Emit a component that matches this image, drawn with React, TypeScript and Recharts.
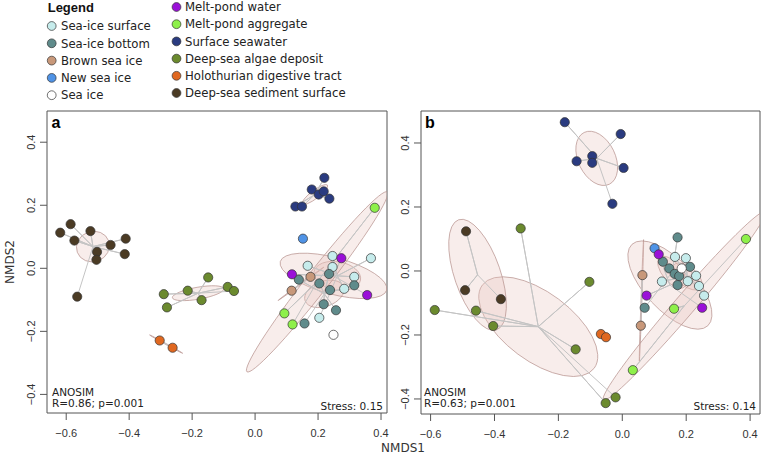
import React from 'react'
import { ScatterChart, Scatter, XAxis, YAxis, ReferenceArea } from 'recharts'

type Pt = [number, number]

const X_TICKS = [-0.6, -0.4, -0.2, 0, 0.2, 0.4]
const Y_TICKS = [-0.4, -0.2, 0, 0.2, 0.4]

const GROUP_NAMES = [
  'Sea-ice surface',
  'Sea-ice bottom',
  'Brown sea ice',
  'New sea ice',
  'Sea ice',
  'Melt-pond water',
  'Melt-pond aggregate',
  'Surface seawater',
  'Deep-sea algae deposit',
  'Holothurian digestive tract',
  'Deep-sea sediment surface',
]
const GROUP_COLORS = [
  '#c6ecec',
  '#5f8b8b',
  '#c8987a',
  '#4f93e6',
  '#ffffff',
  '#9a10d8',
  '#8ef04a',
  '#2a3b80',
  '#6b8a2e',
  '#e06820',
  '#4b3b24',
]

// panel a (NMDS1, NMDS2)
const seaIceSurfaceA: Pt[] = [[0.246, 0.039], [0.368, 0.032], [0.167, 0.008], [0.246, 0.004], [0.315, -0.027], [0.283, -0.065], [0.204, -0.157]]
const seaIceBottomA: Pt[] = [[0.139, -0.036], [0.235, -0.018], [0.204, -0.048], [0.238, -0.069], [0.315, -0.054], [0.218, -0.114], [0.257, -0.133], [0.157, -0.175]]
const brownSeaIceA: Pt[] = [[0.176, -0.027], [0.116, -0.071]]
const newSeaIceA: Pt[] = [[0.152, 0.094]]
const seaIceA: Pt[] = [[0.249, -0.211]]
const meltPondWaterA: Pt[] = [[0.117, -0.019], [0.274, 0.032], [0.356, -0.085]]
const meltPondAggA: Pt[] = [[0.38, 0.192], [0.093, -0.143], [0.119, -0.178]]
const surfaceSeawaterA: Pt[] = [[0.22, 0.287], [0.18, 0.25], [0.202, 0.234], [0.218, 0.244], [0.236, 0.221], [0.128, 0.196], [0.149, 0.196]]
const algaeA: Pt[] = [[-0.29, -0.082], [-0.28, -0.124], [-0.214, -0.071], [-0.149, -0.029], [-0.17, -0.101], [-0.087, -0.059], [-0.067, -0.072]]
const holothurianA: Pt[] = [[-0.303, -0.229], [-0.262, -0.252]]
const sedimentA: Pt[] = [[-0.619, 0.113], [-0.586, 0.14], [-0.523, 0.118], [-0.574, 0.088], [-0.459, 0.074], [-0.411, 0.094], [-0.414, 0.045], [-0.502, 0.052], [-0.504, 0.027], [-0.565, -0.09]]

// panel b
const seaIceSurfaceB: Pt[] = [[0.165, 0.044], [0.199, 0.04], [0.124, -0.033], [0.205, -0.032], [0.231, -0.015], [0.24, -0.047], [0.256, -0.077]]
const seaIceBottomB: Pt[] = [[0.173, 0.105], [0.127, 0.029], [0.147, 0.008], [0.164, -0.009], [0.178, -0.016], [0.212, 0.013], [0.173, -0.044], [0.07, -0.115]]
const brownSeaIceB: Pt[] = [[0.063, -0.013], [0.058, -0.171]]
const newSeaIceB: Pt[] = [[0.101, 0.071]]
const seaIceB: Pt[] = [[0.186, 0.008]]
const meltPondWaterB: Pt[] = [[0.114, 0.052], [0.076, -0.077], [0.25, -0.115]]
const meltPondAggB: Pt[] = [[0.033, -0.31], [0.162, -0.118], [0.387, 0.1]]
const surfaceSeawaterB: Pt[] = [[-0.18, 0.465], [-0.143, 0.343], [-0.094, 0.359], [-0.094, 0.338], [-0.005, 0.428], [0.004, 0.322], [-0.031, 0.21]]
const algaeB: Pt[] = [[-0.318, 0.133], [-0.103, -0.034], [-0.587, -0.122], [-0.458, -0.124], [-0.404, -0.172], [-0.146, -0.245], [-0.052, -0.413], [-0.021, -0.395]]
const holothurianB: Pt[] = [[-0.067, -0.197], [-0.051, -0.207]]
const sedimentB: Pt[] = [[-0.489, 0.124], [-0.492, -0.06], [-0.38, -0.088]]

// group ellipses: [centre x, centre y, semi-major, semi-minor, angle in degrees]
const ellipsesA: (number[] | null)[] = [
  [0.261, -0.024, 0.075, 0.045, -10],
  [0.22, -0.081, 0.065, 0.04, 20],
  [0.146, -0.049, 0.09, 0.0015, 36],
  null,
  null,
  [0.249, -0.024, 0.175, 0.058, -15],
  [0.197, -0.043, 0.362, 0.035, 52],
  [0.19, 0.234, 0.05, 0.013, 37],
  [-0.181, -0.079, 0.083, 0.019, 10],
  [-0.2825, -0.2405, 0.06, 0.0015, -29],
  [-0.515, 0.069, 0.053, 0.048, 20],
]
const ellipsesB: (number[] | null)[] = [
  [0.203, -0.017, 0.055, 0.03, -40],
  [0.156, -0.004, 0.06, 0.03, -50],
  [0.06, -0.092, 0.19, 0.0015, 88],
  null,
  null,
  [0.149, -0.044, 0.174, 0.078, -47],
  [0.194, -0.109, 0.388, 0.032, 49.3],
  [-0.08, 0.352, 0.09, 0.058, -64],
  [-0.263, -0.174, 0.218, 0.107, -36.6],
  [-0.059, -0.202, 0.015, 0.0015, -32],
  [-0.453, -0.012, 0.182, 0.072, -71],
]

const groupsA = [seaIceSurfaceA, seaIceBottomA, brownSeaIceA, newSeaIceA, seaIceA, meltPondWaterA, meltPondAggA, surfaceSeawaterA, algaeA, holothurianA, sedimentA]
const groupsB = [seaIceSurfaceB, seaIceBottomB, brownSeaIceB, newSeaIceB, seaIceB, meltPondWaterB, meltPondAggB, surfaceSeawaterB, algaeB, holothurianB, sedimentB]

const fmt = (v: number) => (v < 0 ? '\u2212' : '') + Math.abs(v).toFixed(1)
const SANS = '"DejaVu Sans", Verdana, sans-serif'
const ARIAL = '"Liberation Sans", Arial, sans-serif'

// centre, end of major axis, end of minor axis
const ellipseData = (e: number[]) => {
  const [cx, cy, a, b, deg] = e
  const t = (deg * Math.PI) / 180
  return [
    { x: cx, y: cy },
    { x: cx + a * Math.cos(t), y: cy + a * Math.sin(t) },
    { x: cx - b * Math.sin(t), y: cy + b * Math.cos(t) },
  ]
}

const spiderData = (e: number[], pts: Pt[]) =>
  pts.flatMap(([x, y]) => [{ x: e[0], y: e[1] }, { x, y }])

const EllipseLine = (props: any) => {
  const [c, u, v] = props.points || []
  if (!c || !u || !v) return <g />
  return (
    <ellipse
      cx={0}
      cy={0}
      rx={1}
      ry={1}
      transform={`matrix(${u.x - c.x} ${u.y - c.y} ${v.x - c.x} ${v.y - c.y} ${c.x} ${c.y})`}
      fill="#e8c4bd"
      fillOpacity={0.3}
      stroke="#b89490"
      strokeOpacity={0.75}
      strokeWidth={1}
      vectorEffect="non-scaling-stroke"
    />
  )
}

const noShape = () => <g />

const RotTick = (p: any) => (
  <text
    x={p.x}
    y={p.y}
    transform={`rotate(-90 ${p.x} ${p.y})`}
    textAnchor="middle"
    fontSize={11}
    fill="#333"
    fontFamily={ARIAL}
  >
    {fmt(p.payload.value)}
  </text>
)

function Panel({ left, width, marginRight, axisHeight, xDomain, yDomain, groups, ellipses }: any) {
  return (
    <div style={{ position: 'absolute', left, top: 0 }}>
      <ScatterChart width={width} height={462} margin={{ top: 111, right: marginRight, bottom: 0, left: 0 }}>
        <XAxis
          type="number"
          dataKey="x"
          domain={xDomain}
          allowDataOverflow
          ticks={X_TICKS}
          interval={0}
          axisLine={false}
          tickSize={7}
          tickMargin={9}
          height={axisHeight}
          tickFormatter={fmt}
          tick={{ fontSize: 11, fill: '#333', fontFamily: ARIAL }}
          tickLine={{ stroke: '#555' }}
        />
        <YAxis
          type="number"
          dataKey="y"
          domain={yDomain}
          allowDataOverflow
          ticks={Y_TICKS}
          interval={0}
          axisLine={false}
          width={47}
          tickSize={7}
          tickMargin={5}
          tick={RotTick}
          tickLine={{ stroke: '#555' }}
        />
        <ReferenceArea
          x1={xDomain[0]}
          x2={xDomain[1]}
          y1={yDomain[0]}
          y2={yDomain[1]}
          fill="none"
          stroke="#555"
          strokeWidth={1}
        />
        {ellipses.map((e: number[] | null, i: number) =>
          e ? (
            <Scatter
              key={'ell' + i}
              data={ellipseData(e)}
              shape={noShape}
              line={EllipseLine}
              isAnimationActive={false}
              legendType="none"
            />
          ) : null
        )}
        {ellipses.map((e: number[] | null, i: number) =>
          e ? (
            <Scatter
              key={'sp' + i}
              data={spiderData(e, groups[i])}
              shape={noShape}
              line={{ stroke: '#c4c4c4', strokeWidth: 1 }}
              isAnimationActive={false}
              legendType="none"
            />
          ) : null
        )}
        {groups.map((pts: Pt[], i: number) => (
          <Scatter
            key={'pt' + i}
            name={GROUP_NAMES[i]}
            data={pts.map(([x, y]) => ({ x, y }))}
            isAnimationActive={false}
            shape={(p: any) => (
              <circle cx={p.cx} cy={p.cy} r={4.6} fill={GROUP_COLORS[i]} stroke="#333" strokeWidth={0.7} />
            )}
          />
        ))}
      </ScatterChart>
    </div>
  )
}

export default function App() {
  const legendRows1 = [26, 43.3, 60.6, 77.9, 95.2]
  const legendRows2 = [7, 24.2, 41.4, 58.6, 75.8, 93]
  return (
    <div style={{ position: 'absolute', left: 0, top: 0, width: 762, height: 462, background: '#fff', overflow: 'hidden' }}>
      <Panel
        left={0}
        width={390}
        marginRight={3}
        axisHeight={49}
        xDomain={[-0.661, 0.419]}
        yDomain={[-0.459, 0.499]}
        groups={groupsA}
        ellipses={ellipsesA}
      />
      <Panel
        left={374}
        width={388}
        marginRight={2}
        axisHeight={48}
        xDomain={[-0.63, 0.431]}
        yDomain={[-0.447, 0.5]}
        groups={groupsB}
        ellipses={ellipsesB}
      />
      <svg width={762} height={462} style={{ position: 'absolute', left: 0, top: 0, pointerEvents: 'none' }}>
        {/* legend */}
        <text x={47.7} y={11.5} fontFamily={ARIAL} fontWeight="bold" fontSize={13} fill="#111">
          Legend
        </text>
        {legendRows1.map((y, i) => (
          <g key={'l1' + i}>
            <circle cx={51.7} cy={y} r={4.4} fill={GROUP_COLORS[i]} stroke="#333" strokeWidth={0.7} />
            <text x={61} y={y + 4.2} fontFamily={SANS} fontSize={11.7} fill="#222">
              {GROUP_NAMES[i]}
            </text>
          </g>
        ))}
        {legendRows2.map((y, i) => (
          <g key={'l2' + i}>
            <circle cx={176.5} cy={y} r={4.4} fill={GROUP_COLORS[i + 5]} stroke="#333" strokeWidth={0.7} />
            <text x={185} y={y + 4.2} fontFamily={SANS} fontSize={11.7} fill="#222">
              {GROUP_NAMES[i + 5]}
            </text>
          </g>
        ))}

        {/* panel labels */}
        <text x={51.5} y={128} fontFamily={ARIAL} fontWeight="bold" fontSize={16} fill="#000">a</text>
        <text x={425} y={128} fontFamily={ARIAL} fontWeight="bold" fontSize={16} fill="#000">b</text>

        {/* annotations */}
        <g fontFamily={SANS} fontSize={10.5} fill="#222">
          <text x={52} y={395.5}>ANOSIM</text>
          <text x={52} y={407.2}>R=0.86; p=0.001</text>
          <text x={383} y={409.5} textAnchor="end">Stress: 0.15</text>
          <text x={424} y={395.5}>ANOSIM</text>
          <text x={424} y={407.2}>R=0.63; p=0.001</text>
          <text x={756} y={409.5} textAnchor="end">Stress: 0.14</text>
        </g>

        {/* axis titles */}
        <text x={403} y={452} textAnchor="middle" fontFamily={SANS} fontSize={12} fill="#333">NMDS1</text>
        <text x={14} y={262} textAnchor="middle" transform="rotate(-90 14 262)" fontFamily={SANS} fontSize={12} fill="#333">
          NMDS2
        </text>
      </svg>
    </div>
  )
}
